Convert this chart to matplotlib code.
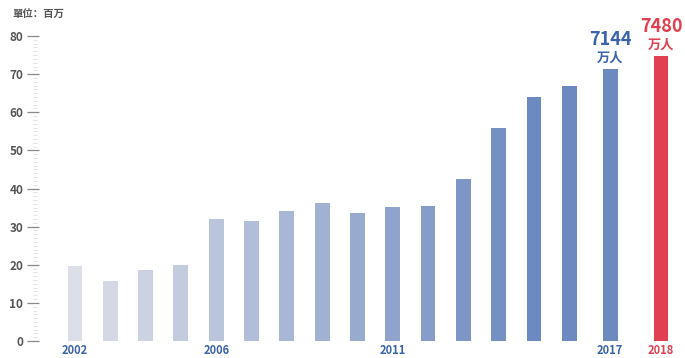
import numpy as np
import matplotlib
matplotlib.use("Agg")
import matplotlib.pyplot as plt
from matplotlib.ticker import MultipleLocator

plt.rcParams['font.family'] = ['Noto Sans CJK SC', 'DejaVu Sans']

years = list(range(2002, 2019))
values = [19.7, 15.8, 18.5, 19.9, 32.0, 31.5, 34.1, 36.2, 33.6, 35.2, 35.4,
          42.5, 55.9, 64.0, 66.9, 71.44, 74.8]
shown_years = [2002, 2006, 2011, 2017, 2018]
yticks = [0, 10, 20, 30, 40, 50, 60, 70, 80]
unit_label = "單位：百万"
ann_2017 = ("7144", "万人")
ann_2018 = ("7480", "万人")

W, H = 685, 358
fig = plt.figure(figsize=(W / 100, H / 100), dpi=100)
ax = fig.add_axes([33 / W, 17 / H, 652 / W, 305 / H])

# x positions: uniform spacing, with extra gap before the last two bars
pos = np.arange(len(years), dtype=float)
pos[-2] += 0.16
pos[-1] += 0.6

# colour gradient from light grey-lavender to blue, last bar red
c0 = np.array([0xdd, 0xdf, 0xe8]) / 255
c1 = np.array([0x6c, 0x89, 0xc0]) / 255
n = len(years) - 1
colors = []
for i in range(n):
    t = min(1.0, i / (n - 3))
    colors.append(tuple(c0 + (c1 - c0) * t))
colors.append("#e0404f")

ax.bar(pos, values, width=0.42, color=colors, zorder=2)

ax.set_xlim(-1.19, 17.28)
ax.set_ylim(0, 80)

for s in ['top', 'right', 'bottom']:
    ax.spines[s].set_visible(False)
ax.spines['left'].set_visible(False)

ax.set_yticks(yticks)
ax.yaxis.set_minor_locator(MultipleLocator(1))
ax.tick_params(axis='y', which='major', direction='inout', length=8, width=0.9,
               color='#888888', labelsize=8.5, labelcolor='#555555', pad=3)
ax.tick_params(axis='y', which='minor', direction='in', length=3, width=0.6,
               color='#dddddd')
for lab in ax.get_yticklabels():
    lab.set_fontweight('bold')

idx = [years.index(y) for y in shown_years]
ax.set_xticks(pos[idx])
ax.set_xticklabels([str(y) for y in shown_years])
ax.tick_params(axis='x', length=0, pad=2, labelsize=8)
for lab, y in zip(ax.get_xticklabels(), shown_years):
    lab.set_color('#e0404f' if y == 2018 else '#3a63a8')
    lab.set_fontweight('bold')

fig.text(12 / W, 1 - 15 / H, unit_label, fontsize=7.5, color='#555555',
         fontweight='bold', va='center', ha='left')

for i, (num, unit), col in [(len(years) - 2, ann_2017, '#3a63a8'),
                             (len(years) - 1, ann_2018, '#e0404f')]:
    ax.annotate(unit, (pos[i], values[i]), xytext=(0, 3), textcoords='offset points',
                ha='center', va='bottom', fontsize=9.5, color=col, fontweight='bold')
    ax.annotate(num, (pos[i], values[i]), xytext=(0, 14), textcoords='offset points',
                ha='center', va='bottom', fontsize=13, color=col, fontweight='bold')

fig.savefig("out.png", dpi=100)
